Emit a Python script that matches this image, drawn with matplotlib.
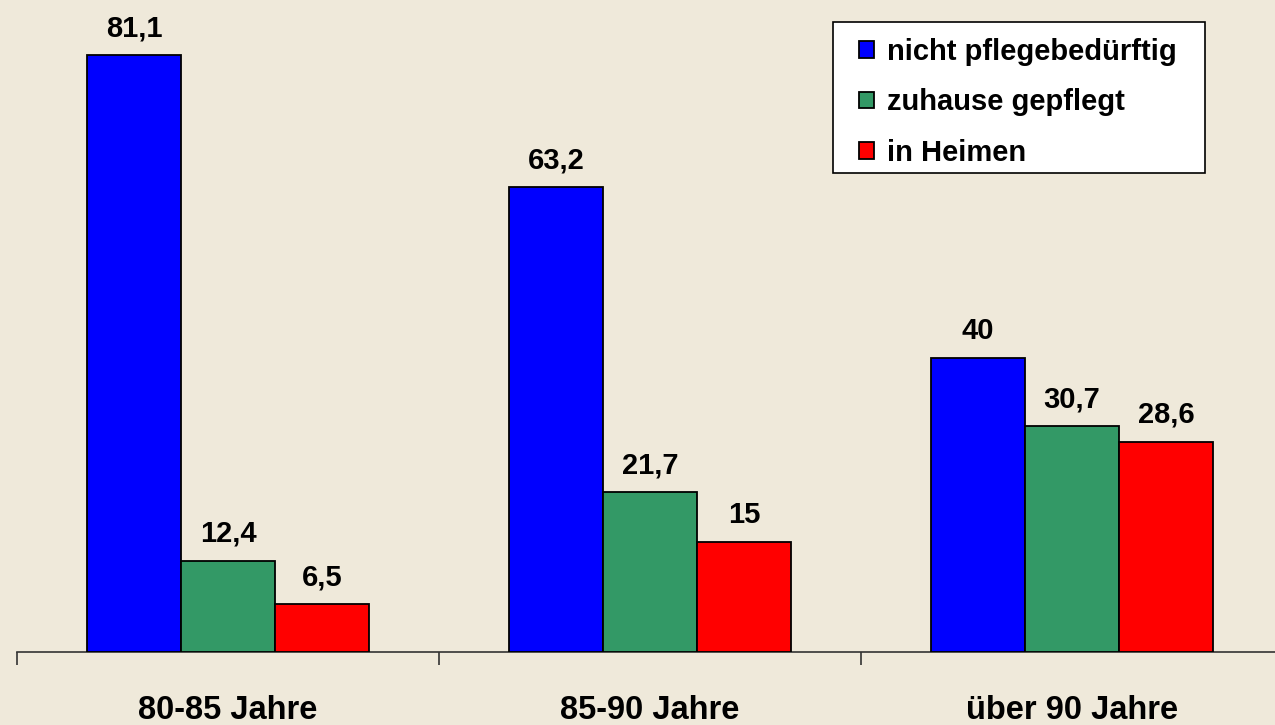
import matplotlib
matplotlib.use("Agg")
import matplotlib.pyplot as plt
from matplotlib.patches import Rectangle
import numpy as np

categories = ["80-85 Jahre", "85-90 Jahre", "über 90 Jahre"]
series_names = ["nicht pflegebedürftig", "zuhause gepflegt", "in Heimen"]
nicht_pflege = [81.1, 63.2, 40]
zuhause = [12.4, 21.7, 30.7]
heime = [6.5, 15, 28.6]
value_labels = [["81,1", "63,2", "40"], ["12,4", "21,7", "30,7"], ["6,5", "15", "28,6"]]
colors = ["#0000FF", "#339966", "#FF0000"]

plt.rcParams['font.family'] = ['Liberation Sans', 'DejaVu Sans']

W, H = 1275, 725
fig = plt.figure(figsize=(W / 100, H / 100), dpi=100)
bg = "#EFE9DA"
fig.patch.set_facecolor(bg)

ax = fig.add_axes([17 / W, (H - 652) / H, 1266 / W, 652 / H])
ax.set_facecolor("none")

x = np.arange(len(categories))
bw = 94 / 422
data = [nicht_pflege, zuhause, heime]
for i, (vals, c, name) in enumerate(zip(data, colors, series_names)):
    bars = ax.bar(x + (i - 1) * bw, vals, width=bw, color=c, edgecolor="black",
                  linewidth=1.3, label=name, zorder=3)
    for b, lab in zip(bars, value_labels[i]):
        ax.annotate(lab, (b.get_x() + b.get_width() / 2, b.get_height()),
                    xytext=(0, 13.5), textcoords="offset points",
                    ha="center", va="baseline", fontsize=21, fontweight="bold")

ax.set_xlim(-0.5, 2.5)
ax.set_ylim(0, 652 / 7.36)
for s in ["left", "right", "top"]:
    ax.spines[s].set_visible(False)
ax.spines["bottom"].set_color("#333333")
ax.spines["bottom"].set_linewidth(1.2)
ax.set_yticks([])
ax.set_xticks([-0.5, 0.5, 1.5, 2.5])
ax.set_xticklabels([])
ax.tick_params(axis="x", which="major", direction="out", length=9, width=1.2, color="#333333")
ax.set_xticks(x, minor=True)
ax.set_xticklabels(categories, minor=True, fontsize=23.5, fontweight="bold")
ax.tick_params(axis="x", which="minor", length=0, pad=31)

# legend frame
frame = Rectangle((833 / W, 1 - 173 / H), (1205 - 833) / W, (173 - 22) / H,
                  transform=fig.transFigure, facecolor="white", edgecolor="black",
                  linewidth=1.2, zorder=1)
fig.patches.append(frame)

leg = fig.legend(loc="upper left", bbox_to_anchor=(859 / W, 1 - 38 / H),
                 prop={"weight": "bold", "size": 21},
                 handlelength=0.5, handleheight=0.5, handletextpad=0.45,
                 labelspacing=0.77, borderpad=0, borderaxespad=0,
                 frameon=False)
leg.set_zorder(5)

fig.savefig("out.png", dpi=100, facecolor=bg)
